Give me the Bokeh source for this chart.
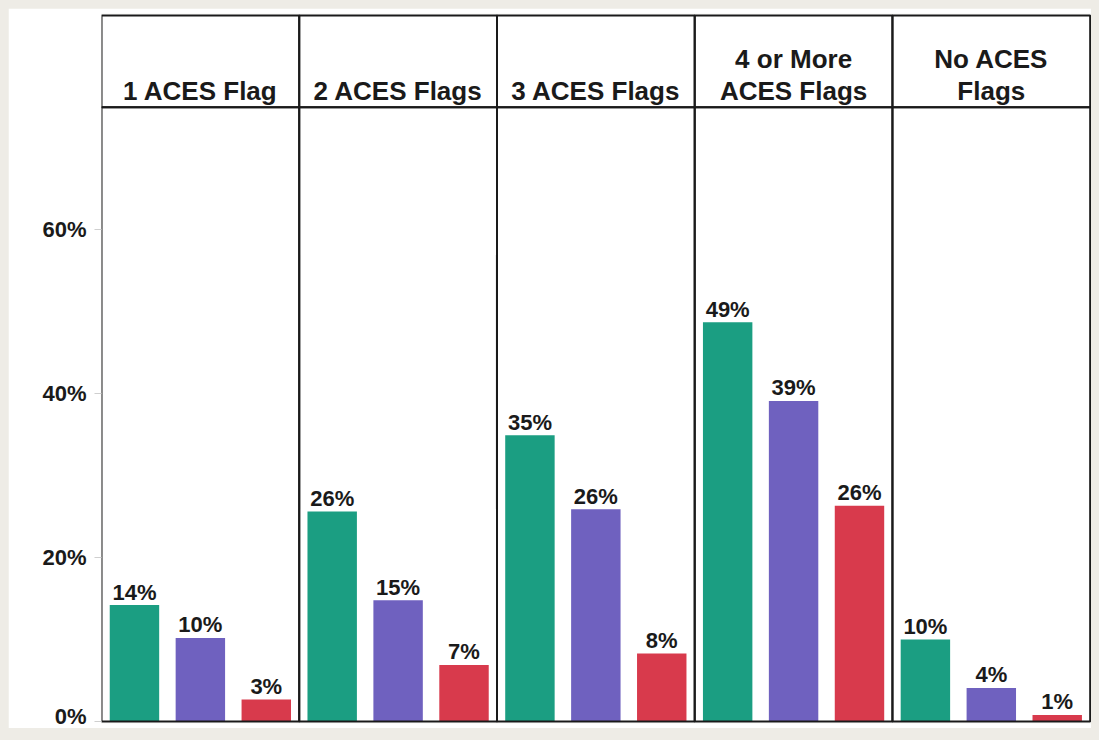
from bokeh.plotting import figure
from bokeh.models import Range1d, FixedTicker, ColumnDataSource, PrintfTickFormatter
from bokeh.embed import file_html
from bokeh.resources import INLINE
from bokeh.core.properties import value

# ---- data ----
panels = ["1 ACES Flag", "2 ACES Flags", "3 ACES Flags", "4 or More\nACES Flags", "No ACES\nFlags"]
series_green = [14.2, 25.6, 34.9, 48.7, 10.0]
series_purple = [10.2, 14.8, 25.9, 39.1, 4.1]
series_red = [2.7, 6.9, 8.3, 26.3, 0.8]
y_ticks = [0, 20, 40, 60]

colors = ["#1b9e82", "#6f61bf", "#d83a4c"]
FONT = "Liberation Sans"
PANEL_W = 3.0
PANEL_TOP = 74.9
HEADER_TOP = 86.1

n = len(panels)
p = figure(width=1083, height=720, output_backend="svg", toolbar_location=None,
           x_range=Range1d(0, n * PANEL_W + 0.02), y_range=Range1d(-0.24, 86.34),
           min_border_left=93, min_border_right=0, min_border_top=5, min_border_bottom=5)
p.background_fill_color = "white"
p.border_fill_color = "white"
p.outline_line_color = None
p.xgrid.visible = False
p.ygrid.visible = False
p.xaxis.visible = False

ya = p.yaxis[0]
ya.ticker = FixedTicker(ticks=y_ticks)
ya.formatter = PrintfTickFormatter(format="%d%%")
ya.axis_line_color = None
ya.major_tick_line_color = "#cfcfcf"
ya.major_tick_in = 0
ya.major_tick_out = 7
ya.minor_tick_line_color = None
ya.major_label_standoff = 8
ya.major_label_text_font = FONT
ya.major_label_text_font_style = "bold"
ya.major_label_text_font_size = "22px"
ya.major_label_text_color = "#1a1a1a"

# bars
xs, tops, cols, labels = [], [], [], []
for i in range(n):
    for j, series in enumerate([series_green, series_purple, series_red]):
        xs.append(i * PANEL_W + 0.5 + j)
        tops.append(series[i])
        cols.append(colors[j])
        labels.append(f"{round(series[i])}%")
src = ColumnDataSource(dict(x=xs, top=tops, color=cols, label=labels))
p.vbar(x="x", top="top", bottom=0, width=0.75, fill_color="color", line_color=None, source=src)
p.text(x="x", y="top", text="label", source=src, text_align="center", text_baseline="alphabetic",
       y_offset=-13, text_font=value(FONT), text_font_style="bold", text_font_size="22px",
       text_color="#1a1a1a")

# panel frames and header strips
lefts = [i * PANEL_W for i in range(n)]
rights = [(i + 1) * PANEL_W for i in range(n)]
p.quad(left=lefts, right=rights, bottom=[0] * n, top=[PANEL_TOP] * n,
       fill_color=None, line_color="#1a1a1a", line_width=2)
p.quad(left=lefts, right=rights, bottom=[PANEL_TOP] * n, top=[HEADER_TOP] * n,
       fill_color=None, line_color="#1a1a1a", line_width=2)

# header texts (last line sits at the bottom of the strip)
hx, hy, ht = [], [], []
for i, name in enumerate(panels):
    lines = name.split("\n")
    for k, line in enumerate(lines):
        hx.append(i * PANEL_W + PANEL_W / 2)
        hy.append(PANEL_TOP + 2.05 + (len(lines) - 1 - k) * 3.9)
        ht.append(line)
p.text(x=hx, y=hy, text=ht, text_align="center", text_baseline="middle",
       text_font=value(FONT), text_font_style="bold", text_font_size="26px", text_color="#1a1a1a")

html = file_html(p, INLINE)
html = html.replace("</head>", "<style>html,body{background:#eeece6;} body{margin:8px;}</style></head>", 1)
open("out.html", "w").write(html)
